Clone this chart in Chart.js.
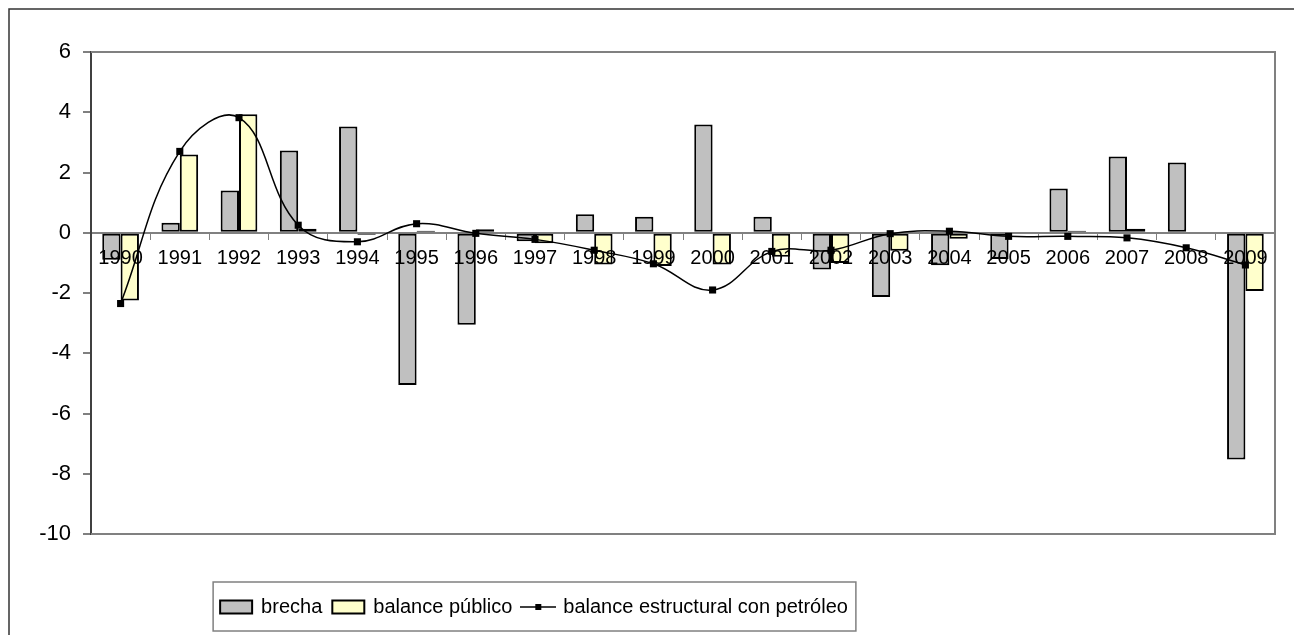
<!DOCTYPE html>
<html>
<head>
<meta charset="utf-8">
<script src="https://cdn.jsdelivr.net/npm/chart.js@4"></script>
<style>
  html, body { margin: 0; padding: 0; background: #fff; }
  #wrap { width: 1294px; height: 635px; position: relative; }
</style>
</head>
<body>
<div id="wrap"><canvas id="chart"></canvas></div>
<script>
const years = ['1990', '1991', '1992', '1993', '1994', '1995', '1996', '1997', '1998', '1999',
               '2000', '2001', '2002', '2003', '2004', '2005', '2006', '2007', '2008', '2009'];
const brecha = [-0.9, 0.33, 1.4, 2.73, 3.53, -5.05, -3.05, -0.28, 0.61, 0.53,
                3.59, 0.53, -1.22, -2.13, -1.08, -0.87, 1.47, 2.53, 2.33, -7.53];
const balancePublico = [-2.25, 2.6, 3.93, 0.13, -0.07, 0.07, 0.12, -0.35, -1.05, -1.1,
                        -1.05, -0.8, -1.0, -0.6, -0.2, 0, 0.07, 0.13, 0, -1.93];
const balanceEstructural = [-2.35, 2.7, 3.82, 0.25, -0.3, 0.3, -0.02, -0.22, -0.58, -1.03,
                            -1.9, -0.62, -0.58, -0.03, 0.05, -0.12, -0.12, -0.17, -0.5, -1.07];
const yTicks = [6, 4, 2, 0, -2, -4, -6, -8, -10];

const FONT = '"Liberation Sans", Arial, sans-serif';

// legend swatches, drawn as small canvases
function boxSwatch(fill) {
  const c = document.createElement('canvas');
  c.width = 36; c.height = 16;
  const g = c.getContext('2d');
  g.fillStyle = fill;
  g.fillRect(2, 1.5, 32, 13);
  g.strokeStyle = '#000';
  g.lineWidth = 2;
  g.strokeRect(2, 1.5, 32, 13);
  return c;
}
function lineSwatch() {
  const c = document.createElement('canvas');
  c.width = 36; c.height = 14;
  const g = c.getContext('2d');
  g.strokeStyle = '#000';
  g.lineWidth = 1.5;
  g.beginPath(); g.moveTo(0, 7); g.lineTo(36, 7); g.stroke();
  g.fillStyle = '#000';
  g.fillRect(15, 4, 6, 6);
  return c;
}
const swatches = [boxSwatch('#C0C0C0'), boxSwatch('#FFFFCC'), lineSwatch()];

const frames = {
  id: 'frames',
  beforeDraw(chart) {
    const ctx = chart.ctx;
    ctx.save();
    ctx.strokeStyle = '#333';
    ctx.lineWidth = 1.5;
    ctx.beginPath();
    ctx.moveTo(9, 640); ctx.lineTo(9, 9); ctx.lineTo(1300, 9);
    ctx.stroke();
    ctx.restore();
  },
  afterLayout(chart) {
    const lg = chart.legend;
    const h = lg.height;
    lg.top = 586; lg.bottom = 586 + h;
    lg.left = 34.5; lg.right = 1034.5; lg.width = 1000;
  },
  beforeDatasetsDraw(chart) {
    const {ctx, chartArea: a} = chart;
    ctx.save();
    ctx.strokeStyle = '#808080';
    ctx.lineWidth = 2;
    ctx.beginPath();
    ctx.moveTo(a.left, a.top); ctx.lineTo(a.right, a.top);
    ctx.lineTo(a.right, a.bottom); ctx.lineTo(a.left, a.bottom);
    ctx.stroke();
    ctx.restore();
  },
  afterDraw(chart) {
    const hb = chart.legend.legendHitBoxes;
    if (!hb || !hb.length) return;
    const l = hb[0].left - 8;
    const r = hb[hb.length - 1].left + hb[hb.length - 1].width + 8;
    const t = hb[0].top - 15;
    const b = hb[0].top + hb[0].height + 14;
    const ctx = chart.ctx;
    ctx.save();
    ctx.strokeStyle = '#808080';
    ctx.lineWidth = 1.5;
    ctx.strokeRect(l, t, r - l, b - t);
    ctx.restore();
  }
};

new Chart(document.getElementById('chart'), {
  type: 'bar',
  data: {
    labels: years,
    datasets: [
      {
        label: 'brecha',
        data: brecha,
        backgroundColor: '#C0C0C0',
        borderColor: '#000',
        borderWidth: 2,
        borderSkipped: false,
        categoryPercentage: 0.62,
        barPercentage: 1,
        order: 1
      },
      {
        label: 'balance público',
        data: balancePublico,
        backgroundColor: '#FFFFCC',
        borderColor: '#000',
        borderWidth: 2,
        borderSkipped: false,
        categoryPercentage: 0.62,
        barPercentage: 1,
        order: 1
      },
      {
        type: 'line',
        label: 'balance estructural con petróleo',
        data: balanceEstructural,
        borderColor: '#000',
        borderWidth: 1.5,
        tension: 0.4,
        fill: false,
        pointStyle: 'rect',
        pointRadius: 5,
        pointBackgroundColor: '#000',
        pointBorderWidth: 0,
        order: 0
      }
    ]
  },
  options: {
    responsive: true,
    maintainAspectRatio: false,
    animation: false,
    layout: { padding: { top: 52, right: 19, bottom: 60, left: 0 } },
    plugins: {
      tooltip: { enabled: false },
      legend: {
        position: 'bottom',
        labels: {
          usePointStyle: true,
          pointStyleWidth: 30,
          padding: 11,
          color: '#000',
          font: { size: 20, family: FONT },
          sort: (a, b) => a.datasetIndex - b.datasetIndex,
          generateLabels(chart) {
            const items = Chart.defaults.plugins.legend.labels.generateLabels(chart);
            items.forEach(it => { it.pointStyle = swatches[it.datasetIndex]; });
            return items;
          }
        }
      }
    },
    scales: {
      x: {
        position: { y: 0 },
        offset: true,
        grid: { offset: true, drawOnChartArea: false, drawTicks: true, tickLength: 6, color: '#808080', lineWidth: 1 },
        border: { color: '#808080', width: 2 },
        ticks: { z: 1, color: '#000', font: { size: 20, family: FONT }, padding: 8, maxRotation: 0, autoSkip: false }
      },
      y: {
        min: Math.min(...yTicks),
        max: Math.max(...yTicks),
        afterFit(scale) { scale.width = 91; },
        grid: { drawOnChartArea: false, drawTicks: true, tickLength: 8, color: '#808080', lineWidth: 2 },
        border: { color: '#404040', width: 2 },
        ticks: { stepSize: 2, color: '#000', font: { size: 22, family: FONT }, padding: 12 }
      }
    }
  },
  plugins: [frames]
});
</script>
</body>
</html>
